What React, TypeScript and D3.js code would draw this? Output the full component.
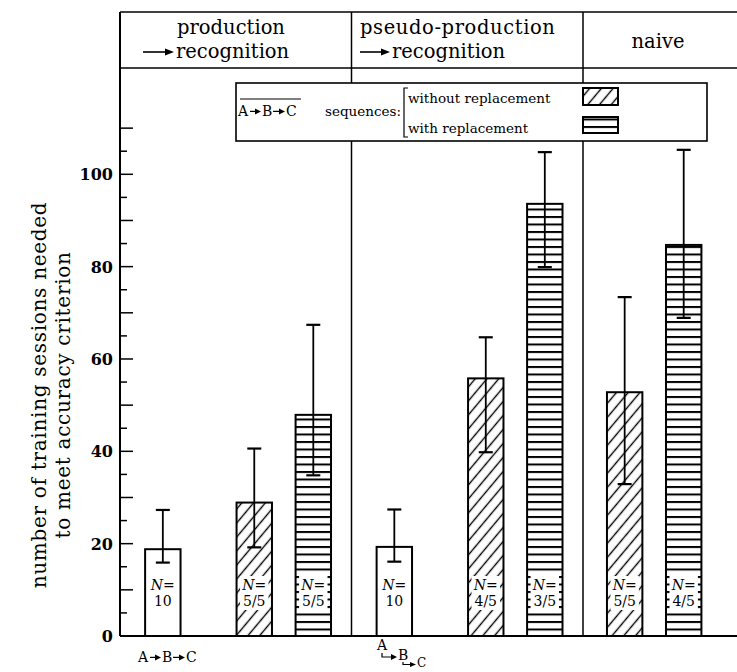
import React from "react";
import * as d3 from "d3";

// ---------- data ----------
const groups = ["production", "pseudo-production", "naive"];
const barGroup = [
  "production", "production", "production",
  "pseudo-production", "pseudo-production", "pseudo-production",
  "naive", "naive",
];
const barSeries = ["ABC", "without", "with", "ABC", "without", "with", "without", "with"];
const barValues = [18.8, 28.9, 47.9, 19.3, 55.8, 93.6, 52.8, 84.7];
const errLow = [15.9, 19.2, 34.8, 16.1, 39.8, 79.9, 32.9, 68.9];
const errHigh = [27.3, 40.6, 67.4, 27.4, 64.7, 104.8, 73.4, 105.3];
const nLabels = ["10", "5/5", "5/5", "10", "4/5", "3/5", "5/5", "4/5"];
const yTickLabels = [0, 20, 40, 60, 80, 100];
const yTicks = [5, 10, 15, 20, 25, 30, 35, 40, 45, 50, 55, 60, 65, 70, 75, 80, 85, 90, 95, 100, 105, 110];
const seriesKeys = ["ABC", "without", "with"];

// ---------- layout ----------
const W = 737;
const H = 672;
const axisX = 120;
const baseY = 636;
const frameTop = 12;
const headerBottom = 68;
const SERIF = "'DejaVu Serif', serif";

const y = d3.scaleLinear().domain([0, 100]).range([baseY, 174.3]);
const xGroup = d3.scaleBand<string>().domain(groups).range([axisX, axisX + 3 * 231.5]).padding(0);
const xSeries = d3.scaleOrdinal<string, number>().domain(seriesKeys).range([0.185, 0.58, 0.835]);
const groupHasABC = (g: string) => barGroup.some((bg, i) => bg === g && barSeries[i] === "ABC");
const barW = xGroup.bandwidth() * 0.153;
const barCenter = (i: number) => {
  const g = barGroup[i];
  const shift = groupHasABC(g) ? 0 : 0.4;
  return (xGroup(g) as number) + (xSeries(barSeries[i]) - shift) * xGroup.bandwidth();
};

function arrow(x1: number, x2: number, yy: number, head = 8, hh = 6, sw = 1.3) {
  return (
    <g>
      <line x1={x1} x2={x2 - head + 1} y1={yy} y2={yy} stroke="#000" strokeWidth={sw} />
      <path d={`M${x2 - head},${yy - hh / 2} L${x2},${yy} L${x2 - head},${yy + hh / 2} Z`} fill="#000" />
    </g>
  );
}

function ABC({ x, yb, fs = 14 }: { x: number; yb: number; fs?: number }) {
  const ay = yb - fs * 0.33;
  return (
    <g fontFamily={SERIF} fontSize={fs}>
      <text x={x} y={yb}>A</text>
      {arrow(x + 12, x + 23, ay, 6, 6, 1.2)}
      <text x={x + 24} y={yb}>B</text>
      {arrow(x + 35, x + 47, ay, 6, 6, 1.2)}
      <text x={x + 48} y={yb}>C</text>
    </g>
  );
}

export default function App() {
  const fillFor = (s: string) => (s === "without" ? "url(#hatch)" : s === "with" ? "url(#hstripe)" : "#fff");
  return (
    <svg width={W} height={H} style={{ position: "absolute", left: 0, top: 0, background: "#fff" }}>
      <defs>
        <pattern id="hatch" patternUnits="userSpaceOnUse" width={9} height={9} patternTransform="rotate(40)">
          <line x1={4.5} x2={4.5} y1={0} y2={9} stroke="#000" strokeWidth={1.4} />
        </pattern>
        <pattern id="hstripe" patternUnits="userSpaceOnUse" width={10} height={7.5} y={baseY % 7.5}>
          <rect x={0} y={0} width={10} height={2} fill="#000" />
        </pattern>
      </defs>
      <rect x={0} y={0} width={W} height={H} fill="#fff" />

      {/* frame / header */}
      <line x1={axisX} x2={W} y1={frameTop} y2={frameTop} stroke="#000" strokeWidth={1.5} />
      <line x1={axisX} x2={W} y1={headerBottom} y2={headerBottom} stroke="#000" strokeWidth={1.5} />
      {groups.slice(1).map((g) => (
        <line key={g} x1={xGroup(g)} x2={xGroup(g)} y1={frameTop} y2={baseY} stroke="#000" strokeWidth={1.5} />
      ))}

      {/* header texts */}
      <g fontFamily={SERIF} fontSize={19.5} fill="#000">
        <text x={231} y={34} textAnchor="middle">production</text>
        {arrow(143, 174, 52, 9, 7, 1.6)}
        <text x={176} y={58}>recognition</text>
        <text x={360} y={34} letterSpacing={0.6}>pseudo-production</text>
        {arrow(360, 390, 52, 9, 7, 1.6)}
        <text x={392} y={58}>recognition</text>
        <text x={658} y={48} textAnchor="middle">naive</text>
      </g>

      {/* y axis */}
      <line x1={axisX} x2={axisX} y1={frameTop} y2={baseY} stroke="#000" strokeWidth={2} />
      <line x1={axisX} x2={W} y1={baseY} y2={baseY} stroke="#000" strokeWidth={2.2} />
      {yTicks.map((t) => (
        <line key={t} x1={axisX} x2={axisX + (t % 10 === 0 ? 13 : 7)} y1={y(t)} y2={y(t)} stroke="#000" strokeWidth={1.5} />
      ))}
      {yTickLabels.map((t) => (
        <text key={t} x={113} y={y(t) + 6} textAnchor="end" fontFamily={SERIF} fontWeight="bold" fontSize={16}>
          {t}
        </text>
      ))}
      <g fontFamily={SERIF} fontSize={20} letterSpacing={0.7}>
        <text transform="translate(46,395) rotate(-90)" textAnchor="middle">number of training sessions needed</text>
        <text transform="translate(70,395) rotate(-90)" textAnchor="middle">to meet accuracy criterion</text>
      </g>

      {/* bars */}
      {barValues.map((v, i) => {
        const cx = barCenter(i);
        const s = barSeries[i];
        return (
          <g key={i}>
            <rect x={cx - barW / 2} y={y(v)} width={barW} height={baseY - y(v)} fill={fillFor(s)} stroke="#000" strokeWidth={2} />
            {s !== "ABC" && (
              <rect x={cx - barW / 2 + 3.5} y={576} width={barW - 7} height={34} fill="#fff" />
            )}
            <text x={cx} y={590} textAnchor="middle" fontFamily={SERIF} fontSize={14}>
              <tspan fontStyle="italic">N</tspan>=
            </text>
            <text x={cx} y={606} textAnchor="middle" fontFamily={SERIF} fontSize={14}>
              {nLabels[i]}
            </text>
          </g>
        );
      })}

      {/* error bars */}
      {barValues.map((v, i) => {
        const cx = barCenter(i);
        return (
          <g key={"e" + i} stroke="#000" strokeWidth={1.8}>
            <line x1={cx} x2={cx} y1={y(errHigh[i])} y2={y(errLow[i])} />
            <line x1={cx - 7} x2={cx + 7} y1={y(errHigh[i])} y2={y(errHigh[i])} strokeWidth={2.2} />
            <line x1={cx - 7} x2={cx + 7} y1={y(errLow[i])} y2={y(errLow[i])} strokeWidth={2.2} />
          </g>
        );
      })}

      {/* legend */}
      <rect x={236} y={83} width={471} height={58} fill="#fff" stroke="#000" strokeWidth={1.6} />
      <line x1={240} x2={301} y1={99} y2={99} stroke="#000" strokeWidth={1.2} />
      <ABC x={238} yb={116} fs={14} />
      <text x={325} y={116} fontFamily={SERIF} fontSize={13.5}>sequences:</text>
      <path d="M408,88 H404 V137 H408" fill="none" stroke="#000" strokeWidth={1.2} />
      <text x={408} y={103} fontFamily={SERIF} fontSize={13.5}>without replacement</text>
      <text x={408} y={133} fontFamily={SERIF} fontSize={13.5}>with replacement</text>
      <rect x={583} y={88} width={35} height={17} fill="url(#hatch)" stroke="#000" strokeWidth={2} />
      <rect x={583} y={117} width={35} height={16} fill="url(#hstripe)" stroke="#000" strokeWidth={2} />

      {/* bottom labels */}
      <ABC x={138} yb={662} fs={14} />
      <g fontFamily={SERIF} fontSize={14}>
        <text x={377} y={650}>A</text>
        <path d="M382,653 V657 H391" fill="none" stroke="#000" strokeWidth={1.2} />
        <path d="M391,654 L397,657 L391,660 Z" fill="#000" />
        <text x={398} y={660}>B</text>
        <path d="M403,662 V664.5 H410" fill="none" stroke="#000" strokeWidth={1.2} />
        <path d="M410,662 L416,664.5 L410,667 Z" fill="#000" />
        <text x={417} y={667} fontSize={12}>C</text>
      </g>
    </svg>
  );
}
